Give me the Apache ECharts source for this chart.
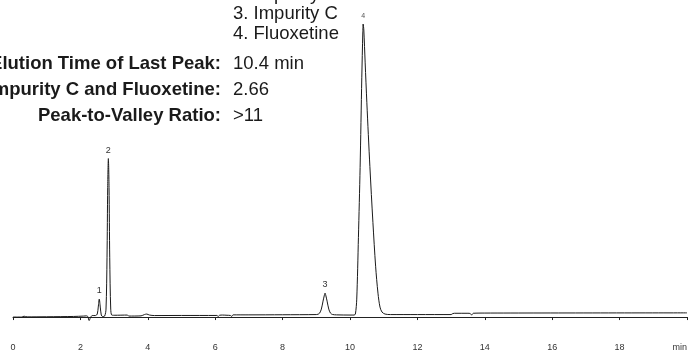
<!DOCTYPE html>
<html>
<head>
<meta charset="utf-8">
<script src="https://cdn.jsdelivr.net/npm/echarts@6/dist/echarts.min.js"></script>
<style>
html,body{margin:0;padding:0;background:#fff;}
#chart{width:691px;height:352px;}
</style>
</head>
<body>
<div id="chart"></div>
<script>
// Retention time (min) and detector signal
var times = [0.00,0.25,0.33,0.42,1.00,1.80,2.10,2.18,2.22,2.26,2.30,2.35,2.45,2.50,2.53,2.56,2.59,2.62,2.66,2.72,2.76,2.79,2.81,2.83,2.85,2.87,2.90,2.93,3.00,3.40,3.43,3.80,3.90,3.97,4.05,4.20,5.00,6.05,6.09,6.13,6.22,6.35,6.45,6.49,6.53,7.00,8.00,9.00,9.05,9.10,9.15,9.20,9.24,9.26,9.28,9.32,9.37,9.42,9.48,9.60,10.00,10.12,10.16,10.20,10.25,10.30,10.35,10.38,10.39,10.41,10.45,10.50,10.59,10.68,10.76,10.83,10.89,10.95,11.04,11.20,12.00,13.00,13.05,13.10,13.50,13.57,13.61,13.66,14.00,20.00];
var signal = [0,0,0.8,0.2,0.3,0.6,1.0,1.2,0.5,-3.5,-0.5,1.5,1.5,3,10,18,10,2,0.5,1,8,60,130,159,130,60,8,2,1.8,2,1,1.2,2.5,3,2,1.5,1.6,1.6,0.6,1.8,2,1.8,1.6,0.6,2.2,2.2,2.3,2.5,2.8,4,8,16,22,24,22,16,8,4,2.6,2.2,2.0,2.0,3,18,80,150,240,285,294,288,255,215,151,95,51,24,10,5,3,2.5,2.5,2.5,3.5,3.8,3.8,3.5,2,3.8,4,4.2];
// Peak annotations
var peakNames = ['1','2','3','4'];
var peakTimes = [2.56, 2.83, 9.26, 10.39];
var peakHeights = [18, 159, 24, 294];
// Axis ticks
var xTicks = [0,2,4,6,8,10,12,14,16,18,20];
var xUnit = 'min';
// Text block
var legendLines = ['1. Impurity A','2. Impurity B','3. Impurity C','4. Fluoxetine'];
var infoLabels = ['Elution Time of Last Peak:','Resolution of Impurity C and Fluoxetine:','Peak-to-Valley Ratio:'];
var infoValues = ['10.4 min','2.66','>11'];

var chart = echarts.init(document.getElementById('chart'), null, {renderer:'canvas'});
var FONT = '"Liberation Sans", Arial, Helvetica, sans-serif';

var lineData = times.map(function(t,i){return [t, signal[i]];});
var mp = peakNames.map(function(n,i){
  return {coord:[peakTimes[i], peakHeights[i]], value:n,
    label:{fontSize: i===3 ? 7 : 9, color: i===3 ? '#555' : '#333'}};
});

var graphics = [];
legendLines.forEach(function(s,i){
  graphics.push({type:'text', x:233, y:-25 + i*19.6,
    style:{text:s, font:'18.5px '+FONT, fill:'#1a1a1a', textVerticalAlign:'middle'}});
});
infoLabels.forEach(function(s,i){
  graphics.push({type:'text', x:221, y:64 + i*25.8,
    style:{text:s, font:'bold 18.5px '+FONT, fill:'#1a1a1a', textAlign:'right', textVerticalAlign:'middle'}});
  graphics.push({type:'text', x:233, y:64 + i*25.8,
    style:{text:infoValues[i], font:'18.5px '+FONT, fill:'#1a1a1a', textAlign:'left', textVerticalAlign:'middle'}});
});

chart.setOption({
  animation:false,
  backgroundColor:'#fff',
  grid:{left:13, right:4, top:24, bottom:17, containLabel:false},
  xAxis:{
    type:'value', min:xTicks[0], max:xTicks[xTicks.length-1], interval:2,
    axisLine:{show:true, lineStyle:{color:'#222', width:1}},
    axisTick:{show:true, length:3, lineStyle:{color:'#222'}},
    axisLabel:{fontSize:9, color:'#333', margin:9, fontFamily:FONT, alignMaxLabel:'right',
      formatter:function(v){return v===xTicks[xTicks.length-1] ? xUnit : String(v);}},
    splitLine:{show:false}
  },
  yAxis:{type:'value', min:-17, max:294, show:false, splitLine:{show:false}},
  series:[{
    type:'line', data:lineData, symbol:'none', smooth:0.3,
    lineStyle:{color:'#1a1a1a', width:1},
    markPoint:{symbol:'circle', symbolSize:0, data:mp,
      label:{show:true, position:'top', distance:4, fontFamily:FONT, formatter:function(p){return p.value;}}}
  }],
  graphic:graphics
});
</script>
</body>
</html>
